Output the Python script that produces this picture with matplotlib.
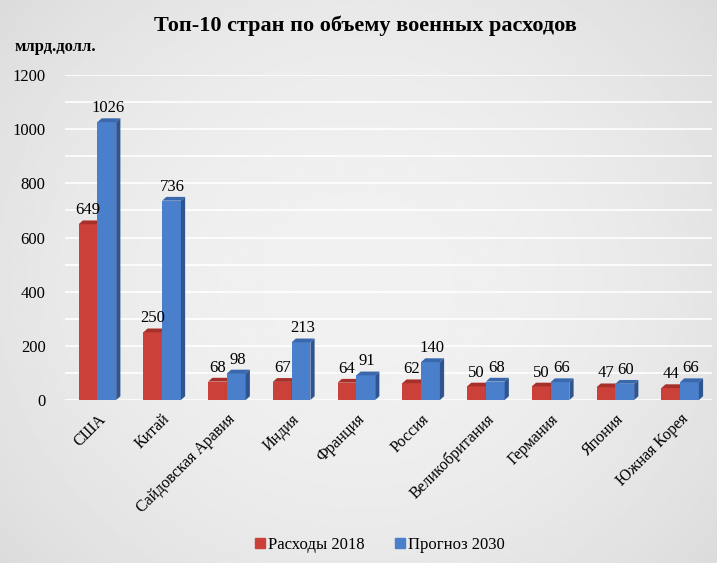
import numpy as np
import matplotlib
matplotlib.use("Agg")
import matplotlib.pyplot as plt
import matplotlib.transforms as mtransforms
from matplotlib.patches import Polygon, Patch

# data
countries = ['США', 'Китай', 'Сайдовская Аравия', 'Индия', 'Франция', 'Россия',
             'Великобритания', 'Германия', 'Япония', 'Южная Корея']
spend_2018 = [649, 250, 68, 67, 64, 62, 50, 50, 47, 44]
forecast_2030 = [1026, 736, 98, 213, 91, 140, 68, 66, 60, 66]
yticks = [0, 200, 400, 600, 800, 1000, 1200]

plt.rcParams['font.family'] = ['Liberation Serif', 'DejaVu Serif']

fig = plt.figure(figsize=(7.17, 5.63), dpi=100)

# soft gray background, lighter in the middle
bg = fig.add_axes([0, 0, 1, 1], zorder=-10)
xx, yy = np.meshgrid(np.linspace(-1, 1, 300), np.linspace(-1, 1, 240))
shade = 0.945 - 0.07 * (0.7 * xx ** 2 + 0.5 * yy ** 2)
bg.imshow(shade, cmap='gray', vmin=0, vmax=1, aspect='auto', extent=[0, 1, 0, 1])
bg.axis('off')

ax = fig.add_axes([0.0907, 0.2895, 0.903, 0.5773])
ax.patch.set_alpha(0)

x = np.arange(len(countries))
w = 0.29
dx, dy = 0.065, 14  # depth of the fake 3D faces

red_front, red_top, red_side = '#cb4139', '#a8302b', '#8f2824'
blue_front, blue_top, blue_side = '#4a7fcb', '#3a68ad', '#2e5590'

def bar3d(xc, h, front, top, side):
    ax.bar(xc, h, w, color=front, edgecolor='none', zorder=3)
    l, r = xc - w / 2, xc + w / 2
    ax.add_patch(Polygon([(l, h), (r, h), (r + dx, h + dy), (l + dx, h + dy)],
                         closed=True, color=top, lw=0, zorder=3))
    ax.add_patch(Polygon([(r, 0), (r + dx, dy), (r + dx, h + dy), (r, h)],
                         closed=True, color=side, lw=0, zorder=3))

for i in range(len(countries)):
    bar3d(x[i] - w / 2, spend_2018[i], red_front, red_top, red_side)
    bar3d(x[i] + w / 2, forecast_2030[i], blue_front, blue_top, blue_side)
    ax.text(x[i] - w / 2, spend_2018[i] + dy + 8, str(spend_2018[i]),
            ha='center', va='bottom', fontsize=12, zorder=4)
    ax.text(x[i] + w / 2 + 0.02, forecast_2030[i] + dy + 8, str(forecast_2030[i]),
            ha='center', va='bottom', fontsize=12, zorder=4)

ax.set_xlim(-0.5, len(countries) - 0.5)
ax.set_ylim(0, 1200)
ax.set_yticks(yticks)
ax.set_yticklabels([str(t) for t in yticks], fontsize=12)
ax.set_xticks(x)
ax.set_xticklabels(countries, rotation=45, ha='right', va='top',
                   rotation_mode='anchor', fontsize=11.5)
# nudge the slanted names a bit to the left, like the original
shift = mtransforms.ScaledTranslation(-8 / 100, 0, fig.dpi_scale_trans)
for lab in ax.get_xticklabels():
    lab.set_transform(lab.get_transform() + shift)
ax.set_yticks(np.arange(100, 1300, 100), minor=True)
ax.tick_params(which='both', length=0)
ax.tick_params(axis='y', pad=14)
ax.tick_params(axis='x', pad=8)
for s in ax.spines.values():
    s.set_visible(False)
ax.grid(axis='y', which='both', color='white', lw=1.2, zorder=0)
ax.set_axisbelow(True)

fig.text(0.51, 0.955, 'Топ-10 стран по объему военных расходов',
         ha='center', va='center', fontsize=16, fontweight='bold')
fig.text(0.02, 0.916, 'млрд.долл.', ha='left', va='center',
         fontsize=12, fontweight='bold')

handles = [Patch(color=red_front, label='Расходы 2018'),
           Patch(color=blue_front, label='Прогноз 2030')]
fig.legend(handles=handles, loc='center', bbox_to_anchor=(0.53, 0.032), ncol=2,
           frameon=False, fontsize=12, handlelength=0.6, handleheight=0.6,
           handletextpad=0.2, columnspacing=1.8)

fig.savefig('out.png', dpi=100)
